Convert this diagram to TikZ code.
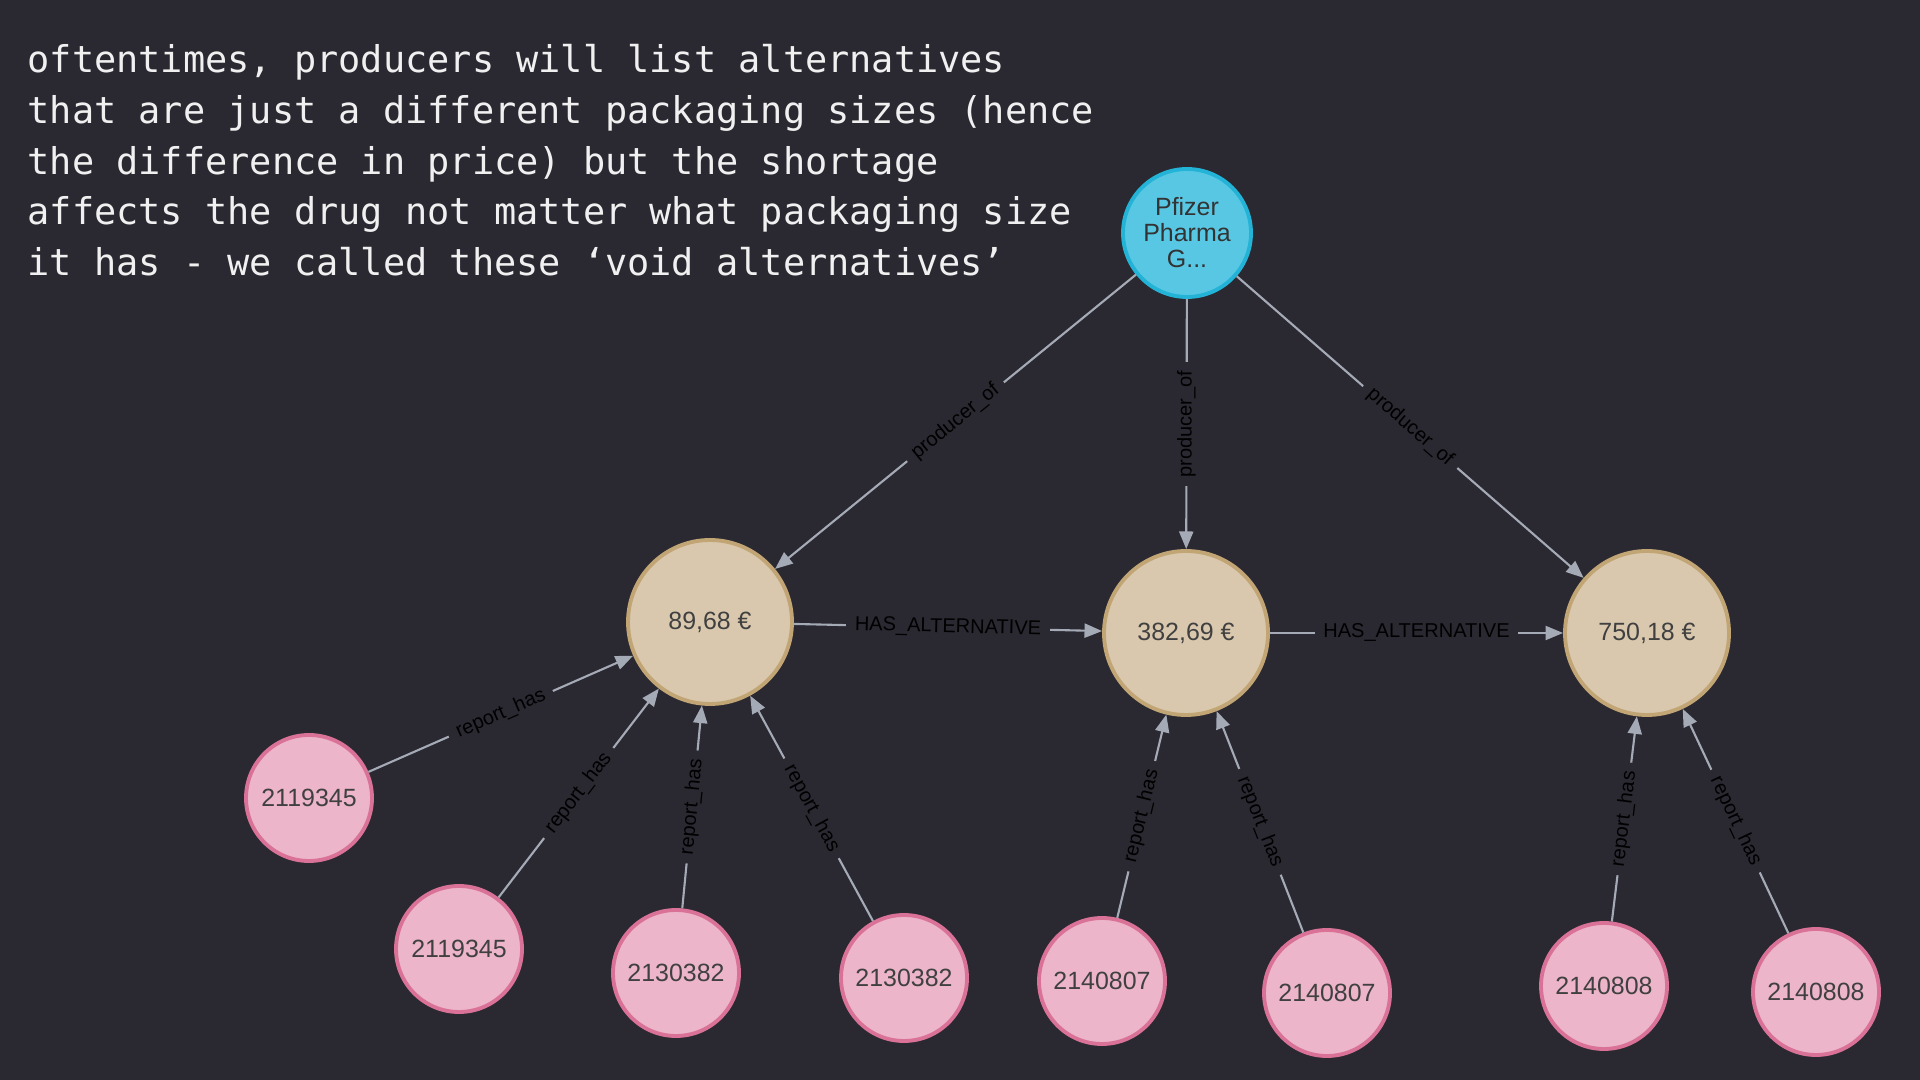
\documentclass[tikz,border=0pt]{standalone}
\usepackage{fontspec}
\setmainfont{Liberation Sans}
\newfontfamily\notefont{DejaVu Sans Mono}
\usepackage{tikz}
\usetikzlibrary{arrows.meta}
\definecolor{bgcol}{RGB}{42,40,49}
\definecolor{edgecol}{RGB}{165,171,182}
\definecolor{compfill}{RGB}{87,199,227}
\definecolor{compline}{RGB}{35,179,215}
\definecolor{drugfill}{RGB}{217,200,174}
\definecolor{drugline}{RGB}{194,165,116}
\definecolor{repfill}{RGB}{236,181,201}
\definecolor{repline}{RGB}{218,114,152}
\tikzstyle{company}=[circle,draw=compline,fill=compfill,line width=1.1pt,minimum size=1.28cm,inner sep=0pt,align=center,text=black!80,font=\fontsize{7.1}{7.4}\selectfont]
\tikzstyle{drug}=[circle,draw=drugline,fill=drugfill,line width=1.1pt,minimum size=1.64cm,inner sep=0pt,text=black!75,font=\fontsize{7.1}{8}\selectfont]
\tikzstyle{report}=[circle,draw=repline,fill=repfill,line width=1.1pt,minimum size=1.26cm,inner sep=0pt,text=black!75,font=\fontsize{7.1}{8}\selectfont]
\tikzstyle{rel}=[edgecol,line width=0.6pt,-{Triangle[length=5pt,width=4pt]}]
\tikzstyle{rellabel}=[fill=bgcol,text=black,inner xsep=2.5pt,inner ysep=0.5pt,font=\fontsize{5.7}{6}\selectfont]

\begin{document}
\begin{tikzpicture}
    \useasboundingbox (0,0) rectangle (19.2,10.8);
    \fill[bgcol] (0,0) rectangle (19.2,10.8);

    \node[anchor=north west,inner sep=0pt,align=left,text=white!94!black,font=\notefont\fontsize{10.5}{14.4}\selectfont] (note) at (0.27,10.36)
      {oftentimes, producers will list alternatives\\
       that are just a different packaging sizes (hence\\
       the difference in price) but the shortage\\
       affects the drug not matter what packaging size\\
       it has - we called these ‘void alternatives’};

    \node[company] (pfizer) at (11.87,8.47) {Pfizer\\Pharma\\G...};

    \node[drug] (pa) at (7.10,4.58) {89,68 €};
    \node[drug] (pb) at (11.86,4.47) {382,69 €};
    \node[drug] (pc) at (16.47,4.47) {750,18 €};

    \node[report] (ra) at (3.09,2.82) {2119345};
    \node[report] (rb) at (4.59,1.31) {2119345};
    \node[report] (rc) at (6.76,1.07) {2130382};
    \node[report] (rd) at (9.04,1.02) {2130382};
    \node[report] (re) at (11.02,0.99) {2140807};
    \node[report] (rf) at (13.27,0.87) {2140807};
    \node[report] (rg) at (16.04,0.94) {2140808};
    \node[report] (rh) at (18.16,0.88) {2140808};

    \draw[rel] (pfizer) -- node[rellabel,sloped] {producer\_of} (pa);
    \draw[rel] (pfizer) -- node[rellabel,rotate=90] {producer\_of} (pb);
    \draw[rel] (pfizer) -- node[rellabel,sloped] {producer\_of} (pc);

    \draw[rel] (pa) -- node[rellabel,sloped] {HAS\_ALTERNATIVE} (pb);
    \draw[rel] (pb) -- node[rellabel,sloped] {HAS\_ALTERNATIVE} (pc);

    \draw[rel] (ra) -- node[rellabel,sloped] {report\_has} (pa);
    \draw[rel] (rb) -- node[rellabel,sloped] {report\_has} (pa);
    \draw[rel] (rc) -- node[rellabel,sloped] {report\_has} (pa);
    \draw[rel] (rd) -- node[rellabel,sloped] {report\_has} (pa);
    \draw[rel] (re) -- node[rellabel,sloped] {report\_has} (pb);
    \draw[rel] (rf) -- node[rellabel,sloped] {report\_has} (pb);
    \draw[rel] (rg) -- node[rellabel,sloped] {report\_has} (pc);
    \draw[rel] (rh) -- node[rellabel,sloped] {report\_has} (pc);
\end{tikzpicture}
\end{document}
